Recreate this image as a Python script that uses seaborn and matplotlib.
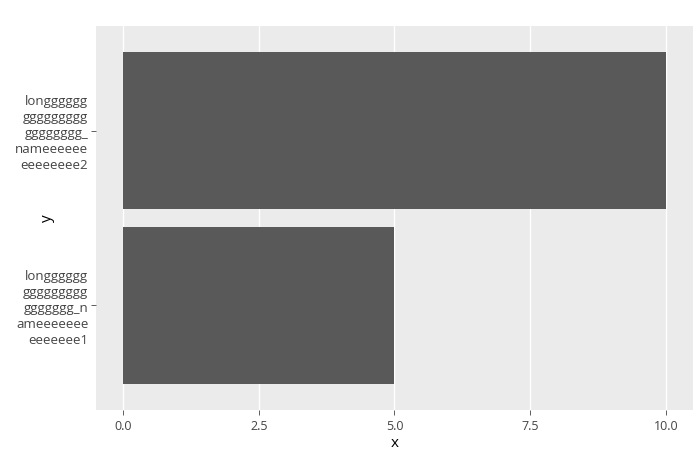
import matplotlib
matplotlib.use("Agg")
import matplotlib.pyplot as plt
import seaborn as sns
import pandas as pd

# data
names = [
    "longggggg\nggggggggg\ngggggggg_\nnameeeeee\neeeeeeee2",
    "longggggg\nggggggggg\nggggggg_n\nameeeeeee\neeeeeee1",
]
values = [10, 5]
x_ticks = [0.0, 2.5, 5.0, 7.5, 10.0]

df = pd.DataFrame({"y": names, "x": values})

sns.set_theme(style="darkgrid", rc={
    "axes.facecolor": "#ebebeb",
    "grid.color": "white",
    "grid.linewidth": 1.0,
    "axes.edgecolor": "#ebebeb",
    "xtick.color": "#444444",
    "ytick.color": "#444444",
    "xtick.bottom": True,
    "ytick.left": True,
    "xtick.major.size": 3.5,
    "ytick.major.size": 3.5,
    "xtick.major.width": 0.6,
    "ytick.major.width": 0.6,
})
plt.rcParams["font.family"] = ["Open Sans", "DejaVu Sans"]

fig = plt.figure(figsize=(7, 4.5), dpi=100)
ax = fig.add_axes([0.137, 0.089, 0.853, 0.853])

sns.barplot(data=df, x="x", y="y", order=names, orient="h", color="#595959",
            saturation=1, width=0.9, ax=ax)
for p in ax.patches:
    p.set_edgecolor("none")

ax.set_xlim(-0.5, 10.5)
ax.set_ylim(1.6, -0.6)
ax.set_xticks(x_ticks)
ax.set_xticklabels([f"{t:.1f}" for t in x_ticks], fontsize=9, color="#444444")
ax.tick_params(axis="y", labelsize=9.5, labelcolor="#444444", pad=2)
for lbl in ax.get_yticklabels():
    lbl.set_multialignment("right")
    lbl.set_linespacing(1.3)
ax.set_xlabel("x", fontsize=11, color="black")
ax.set_ylabel("y", fontsize=11, color="black")
ax.xaxis.set_label_coords(0.5, -0.068)
ax.yaxis.set_label_coords(-0.069, 0.5)
ax.set_axisbelow(True)
for s in ax.spines.values():
    s.set_visible(False)

fig.savefig("out.png", dpi=100)
